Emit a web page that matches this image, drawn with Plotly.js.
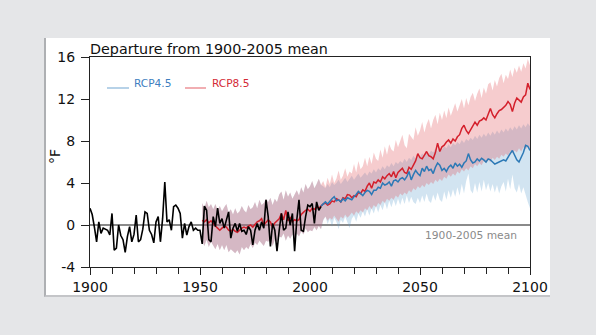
<!DOCTYPE html>
<html>
<head>
<meta charset="utf-8">
<script src="https://cdn.plot.ly/plotly-3.0.1.min.js"></script>
<style>
html,body{margin:0;padding:0;background:#e5e6e8;width:596px;height:335px;overflow:hidden}
#card{position:absolute;left:44px;top:38px;width:504px;height:257px;background:#fff;border-left:2px solid #aeb0b3;border-bottom:2px solid #c4c5c8}
#chart{position:absolute;left:0;top:0;width:596px;height:335px}
</style>
</head>
<body>
<div id="card"></div>
<div id="chart"></div>
<script>
// ---- data ----
const titleText = 'Departure from 1900-2005 mean';
const yTitle = '°F';
const meanLabel = '1900-2005 mean';
const seriesNames = ['RCP4.5', 'RCP8.5'];
const xTickVals = [1900, 1950, 2000, 2050, 2100];
const yTickVals = [-4, 0, 4, 8, 12, 16];
const yTickText = ['-4', '0', '4', '8', '12', '16'];

const obsStart = 1900;   // observed 1900-2005
const histStart = 1951;  // model historical 1951-2005
const futStart = 2006;   // scenarios 2006-2100

const observed = [
  1.6, 1.0, -0.2, -1.6, 0.3, -0.8, -0.3, -0.4, -0.5, -0.95,
  1.1, -2.4, -2.2, 0.0, -1.0, -1.4, -2.6, -1.1, -0.15, -1.6,
  -0.9, 0.95, -1.6, -1.4, -0.4, 1.25, 1.1, -0.5, -0.9, -1.7,
  0.3, 0.8, -1.6, 0.6, 4.1, 0.3, 0.5, -0.5, 1.75, 1.9,
  1.6, 1.1, -1.25, 0.15, -0.95, -0.15, 0.3, -0.5, -0.3, -0.5,
  -0.5, -1.8, 1.8, 1.4, -1.4, -1.6, 0.8, -0.15, 1.6, 0.15,
  0.6, -0.3, 0.5, 1.25, -1.25, -0.3, 0.15, -0.6, 0.15, -0.6,
  -0.5, -0.9, -0.15, -0.5, -1.9, -0.5, 0.15, -0.5, 0.3, -0.3,
  2.4, 0.8, -2.05, 0.15, -0.5, -2.5, -0.5, 1.1, -0.5, -0.3,
  1.25, 0.0, 1.1, -2.5, 0.5, 2.4, -0.5, -0.6, 0.8, 1.9,
  1.75, 2.05, 0.15, 2.2, 1.4, 1.75
];

const histMean = [
  0.45, 0.3, 0.5, 0.2, 0.4, 0.1, -0.1, -0.3, -0.5, -0.3,
  -0.1, -0.2, -0.5, -0.6, -0.4, -0.6, -0.7, -0.5, -0.3, -0.2,
  -0.3, -0.1, 0.0, -0.2, 0.1, 0.3, 0.4, 0.6, 0.0, 0.3,
  0.5, 0.3, -0.2, 0.2, 0.4, 0.6, 1.1, 0.5, 1.4, 0.4,
  0.7, 0.3, 0.5, 0.4, 0.5, 1.0, 1.2, 1.4, 1.5, 1.3,
  1.6, 1.5, 1.7, 1.6, 1.8
];
const histUpper = [
  2.1, 1.6, 2.3, 1.7, 2.0, 1.5, 2.0, 1.4, 1.8, 1.3,
  1.7, 2.0, 1.2, 1.5, 1.0, 1.6, 1.1, 1.3, 1.8, 1.4,
  1.2, 1.9, 1.5, 1.7, 2.2, 1.6, 2.4, 1.9, 2.1, 2.5,
  2.2, 2.6, 1.9, 2.5, 2.2, 2.9, 3.2, 2.4, 3.3, 2.7,
  3.1, 2.5, 2.9, 3.3, 2.8, 3.6, 3.1, 3.9, 3.4, 3.7,
  4.2, 3.5, 3.9, 4.4, 3.8
];
const histLower = [
  -1.5, -2.0, -1.4, -2.1, -1.6, -2.0, -2.3, -1.8, -2.4, -1.9,
  -2.4, -1.9, -2.6, -2.3, -2.5, -2.7, -2.4, -2.8, -2.1, -2.4,
  -2.1, -2.3, -1.8, -2.2, -1.7, -1.9, -1.5, -1.8, -2.0, -1.5,
  -1.6, -1.3, -2.0, -1.4, -1.6, -1.1, -1.2, -0.8, -1.5, -1.0,
  -1.3, -0.9, -1.4, -0.8, -1.1, -0.6, -0.9, -0.3, -0.7, -0.5,
  -0.6, -0.2, -0.5, -0.1, -0.4
];

const rcp85Mean = [
  2.0, 2.1, 1.9, 2.0, 2.3, 2.2, 2.5, 2.4, 2.2, 2.6,
  2.5, 2.9, 2.85, 2.6, 2.8, 2.7, 3.1, 3.0, 3.35, 3.2,
  3.7, 4.0, 3.5, 4.1, 4.0, 4.3, 4.1, 4.6, 4.4, 4.7,
  4.9, 4.6, 5.1, 4.5, 5.0, 5.2, 5.4, 5.0, 4.9, 5.5,
  5.3, 5.7, 6.1, 6.8, 6.4, 6.3, 6.6, 7.0, 6.6, 6.5,
  6.3, 6.9, 7.8, 7.0, 7.45, 7.6, 7.9, 8.1, 7.8, 8.2,
  8.0, 8.4, 8.6, 9.2, 9.5, 9.0, 8.7, 9.1, 9.4, 9.8,
  9.5, 9.9, 10.0, 10.2, 10.0, 10.6, 11.1, 10.5, 10.2, 10.6,
  10.9, 11.0, 11.2, 11.4, 11.75, 11.5, 10.8, 11.6, 12.1, 11.9,
  11.7, 12.2, 12.4, 13.5, 12.9
];
const rcp45Mean = [
  2.0, 2.2, 2.0, 2.3, 2.5, 2.7, 2.3, 2.4, 2.2, 2.5,
  2.3, 2.6, 2.5, 2.4, 2.7, 2.9, 3.2, 3.0, 2.8, 3.1,
  3.3, 3.2, 2.9, 3.3, 3.3, 3.6, 3.5, 4.0, 3.8, 3.9,
  4.1, 3.7, 4.2, 4.3, 4.1, 4.4, 4.5, 4.3, 4.6, 5.1,
  4.3, 4.8, 5.2, 4.9, 4.7, 5.4, 5.1, 5.6, 5.2, 5.3,
  4.9, 5.5, 5.9, 5.7, 5.2, 5.4, 5.1, 5.5, 5.7, 5.4,
  5.9, 5.6, 5.8, 5.5, 5.9, 6.1, 6.8, 6.2, 5.9, 6.0,
  6.3, 6.1, 6.35, 6.2, 6.0, 6.3, 6.2, 6.0, 5.8, 5.9,
  6.0, 6.1, 6.2, 6.1, 6.5, 6.8, 7.1, 6.6, 6.2, 6.0,
  6.5, 6.9, 7.6, 7.5, 7.1
];
const rcp85Upper = [
  4.2, 3.6, 4.5, 3.9, 4.8, 4.0, 4.4, 5.2, 4.3, 4.7,
  5.4, 4.6, 5.1, 4.9, 5.8, 5.0, 6.1, 5.3, 5.6, 6.4,
  5.6, 6.5, 5.8, 6.9, 6.3, 6.1, 7.2, 6.4, 7.5, 6.7,
  7.7, 7.2, 7.0, 8.1, 7.4, 8.0, 8.6, 7.6, 7.3, 8.7,
  8.4, 8.1, 9.3, 8.5, 9.0, 9.8, 8.8, 9.6, 10.1, 9.2,
  10.0, 10.5, 9.6, 10.7, 10.0, 10.9, 10.2, 11.2, 10.4, 11.1,
  11.6, 10.8, 11.5, 12.0, 11.1, 12.1, 11.4, 12.2, 12.6, 11.8,
  12.5, 13.0, 12.1, 13.1, 12.5, 13.4, 13.6, 12.8, 13.8, 13.2,
  14.0, 14.4, 13.5, 14.3, 13.9, 14.8, 14.1, 15.0, 14.5, 15.2,
  14.6, 15.4, 14.9, 15.8, 15.2
];
const rcp85Lower = [
  0.5, 0.8, 0.4, 0.7, 0.5, 0.9, 0.6, 0.3, 0.8, 0.6,
  1.0, 0.7, 0.9, 1.2, 0.9, 1.3, 1.1, 1.4, 1.2, 1.6,
  1.4, 1.8, 1.5, 1.9, 1.7, 2.1, 1.9, 2.3, 2.1, 2.5,
  2.3, 2.6, 2.4, 2.8, 2.6, 3.0, 2.8, 3.1, 2.9, 3.3,
  3.1, 3.5, 3.3, 3.7, 3.5, 3.8, 3.6, 4.0, 3.8, 4.1,
  3.9, 4.3, 4.1, 4.4, 4.2, 4.6, 4.4, 4.8, 4.6, 4.9,
  4.7, 5.1, 4.9, 5.3, 5.1, 5.4, 5.2, 5.6, 5.4, 5.8,
  5.6, 5.9, 5.7, 6.1, 5.9, 6.2, 6.0, 6.4, 6.2, 6.5,
  6.3, 6.7, 6.5, 6.8, 6.6, 7.0, 6.8, 7.1, 6.9, 7.3,
  7.0, 7.4, 7.2, 7.5, 7.3
];
const rcp45Upper = [
  3.7, 3.5, 3.9, 3.6, 4.1, 3.8, 4.0, 4.3, 3.9, 4.2,
  4.5, 4.1, 4.4, 4.7, 4.3, 4.6, 4.9, 4.5, 4.8, 5.0,
  4.7, 5.1, 4.9, 5.3, 5.0, 5.4, 5.2, 5.6, 5.3, 5.7,
  5.5, 5.9, 5.6, 6.0, 5.8, 6.1, 5.9, 6.3, 6.0, 6.4,
  6.2, 6.6, 6.3, 6.7, 6.5, 6.8, 6.6, 7.0, 6.7, 7.1,
  6.9, 7.3, 7.0, 7.4, 7.2, 7.5, 7.3, 7.7, 7.4, 7.8,
  7.6, 7.9, 7.7, 8.1, 7.8, 8.2, 8.0, 8.3, 8.1, 8.5,
  8.2, 8.6, 8.3, 8.7, 8.4, 8.8, 8.5, 8.9, 8.6, 9.0,
  8.7, 9.1, 8.8, 9.2, 8.9, 9.3, 9.0, 9.4, 9.1, 9.5,
  9.2, 9.6, 9.3, 9.7, 9.4
];
const rcp45Lower = [
  0.4, 0.8, 0.1, 0.6, -0.2, 0.7, 0.3, -0.4, 0.5, 0.2,
  0.8, 0.2, -0.3, 0.6, 0.9, 0.3, 1.1, 0.7, 1.3, 0.8,
  1.5, 0.9, 1.6, 1.1, 1.8, 1.2, 1.9, 1.4, 2.2, 1.5,
  2.3, 1.7, 2.4, 1.8, 2.5, 1.9, 2.6, 2.0, 2.8, 2.1,
  2.7, 2.2, 2.0, 2.6, 2.1, 2.8, 2.2, 3.0, 2.3, 2.1,
  2.9, 2.3, 3.1, 2.4, 2.2, 3.2, 2.4, 3.3, 2.6, 3.4,
  2.7, 3.6, 2.8, 3.9, 3.0, 4.2, 4.9, 3.3, 3.0, 4.0,
  3.1, 4.1, 3.2, 4.3, 3.3, 4.0, 3.2, 3.9, 3.1, 3.8,
  3.0, 3.7, 4.1, 3.2, 4.4, 3.4, 4.8, 3.5, 3.1, 3.9,
  3.0, 3.6, 2.8, 2.2, 1.6
];

// ---- build ----
function years(start, n) { const a = []; for (let i = 0; i < n; i++) a.push(start + i); return a; }
const obsYears = years(obsStart, observed.length);
const histYears = years(histStart, histMean.length);
const futYears = years(futStart, rcp85Mean.length);
const allModelYears = histYears.concat(futYears);

const FONT = 'DejaVu Sans, Verdana, sans-serif';
const blueLine = '#2c79b6', redLine = '#d4202c';
const blueFill = 'rgba(95,158,205,0.28)', redFill = 'rgba(222,72,78,0.28)';

function band(lower, upper, color) {
  return [
    {x: allModelYears, y: lower, type: 'scatter', mode: 'lines', line: {width: 0, color: 'rgba(0,0,0,0)'}, hoverinfo: 'skip', showlegend: false},
    {x: allModelYears, y: upper, type: 'scatter', mode: 'lines', fill: 'tonexty', fillcolor: color, line: {width: 0, color: 'rgba(0,0,0,0)'}, hoverinfo: 'skip', showlegend: false}
  ];
}

const traces = []
  .concat(band(histLower.concat(rcp45Lower), histUpper.concat(rcp45Upper), blueFill))
  .concat(band(histLower.concat(rcp85Lower), histUpper.concat(rcp85Upper), redFill))
  .concat([
    {x: allModelYears, y: histMean.concat(rcp85Mean), type: 'scatter', mode: 'lines', name: seriesNames[1], line: {color: redLine, width: 1.5}},
    {x: [histYears[histYears.length - 1]].concat(futYears), y: [histMean[histMean.length - 1]].concat(rcp45Mean), type: 'scatter', mode: 'lines', name: seriesNames[0], line: {color: blueLine, width: 1.5}},
    {x: obsYears, y: observed, type: 'scatter', mode: 'lines', name: 'Observed', line: {color: '#000', width: 1.6}}
  ]);

const W = 596, H = 335, L = 90, R = 66, T = 57, B = 68;
const pw = W - L - R, ph = H - T - B;
const px = v => (v - L) / pw;          // pixel -> paper x
const py = v => (H - B - v) / ph;      // pixel -> paper y

const layout = {
  width: W, height: H,
  margin: {l: L, r: R, t: T, b: B, pad: 0},
  paper_bgcolor: 'rgba(0,0,0,0)',
  plot_bgcolor: '#ffffff',
  showlegend: false,
  font: {family: FONT, color: '#111'},
  title: {text: titleText, font: {family: FONT, size: 14.3, color: '#111'},
          x: L / W, xref: 'container', xanchor: 'left',
          y: 1 - 49 / H, yref: 'container', yanchor: 'middle'},
  xaxis: {
    range: [1900, 2100], tickmode: 'array', tickvals: xTickVals,
    ticks: 'outside', ticklen: 7, tickwidth: 1, tickcolor: '#222',
    showline: true, linecolor: '#222', linewidth: 1, mirror: true,
    showgrid: false, zeroline: false, ticklabelstandoff: 0,
    tickfont: {family: FONT, size: 14, color: '#111'},
    minor: {dtick: 10, tick0: 1900, ticks: 'outside', ticklen: 6, tickcolor: '#222', showgrid: false}
  },
  yaxis: {
    range: [-4, 16], tickmode: 'array', tickvals: yTickVals, ticktext: yTickText,
    ticks: 'outside', ticklen: 8, tickwidth: 1, tickcolor: '#222',
    showline: true, linecolor: '#222', linewidth: 1, mirror: true,
    showgrid: false, zeroline: true, zerolinecolor: '#8a8a8a', zerolinewidth: 1.5,
    ticklabelstandoff: 3,
    tickfont: {family: FONT, size: 14, color: '#111'}
  },
  shapes: [
    {type: 'line', xref: 'paper', yref: 'paper', x0: px(107), x1: px(129), y0: py(88), y1: py(88), line: {color: '#9fc3e0', width: 1.5}},
    {type: 'line', xref: 'paper', yref: 'paper', x0: px(185), x1: px(206), y0: py(88), y1: py(88), line: {color: '#ec9399', width: 1.5}}
  ],
  annotations: [
    {text: yTitle, xref: 'paper', yref: 'paper', x: px(55), y: py(157), textangle: -90, showarrow: false, font: {family: FONT, size: 14, color: '#111'}, xanchor: 'center', yanchor: 'middle'},
    {text: meanLabel, xref: 'x', yref: 'y', x: 2100, y: 0, xanchor: 'right', yanchor: 'top', xshift: -11, yshift: -2, showarrow: false, font: {family: FONT, size: 10.7, color: '#8a8a8a'}},
    {text: seriesNames[0], xref: 'paper', yref: 'paper', x: px(132), y: py(82.7), xanchor: 'left', yanchor: 'middle', showarrow: false, font: {family: FONT, size: 10.6, color: '#3f7fbf'}},
    {text: seriesNames[1], xref: 'paper', yref: 'paper', x: px(210), y: py(82.7), xanchor: 'left', yanchor: 'middle', showarrow: false, font: {family: FONT, size: 10.6, color: '#d42a36'}}
  ]
};

Plotly.newPlot('chart', traces, layout, {displayModeBar: false, staticPlot: true});
</script>
</body>
</html>
